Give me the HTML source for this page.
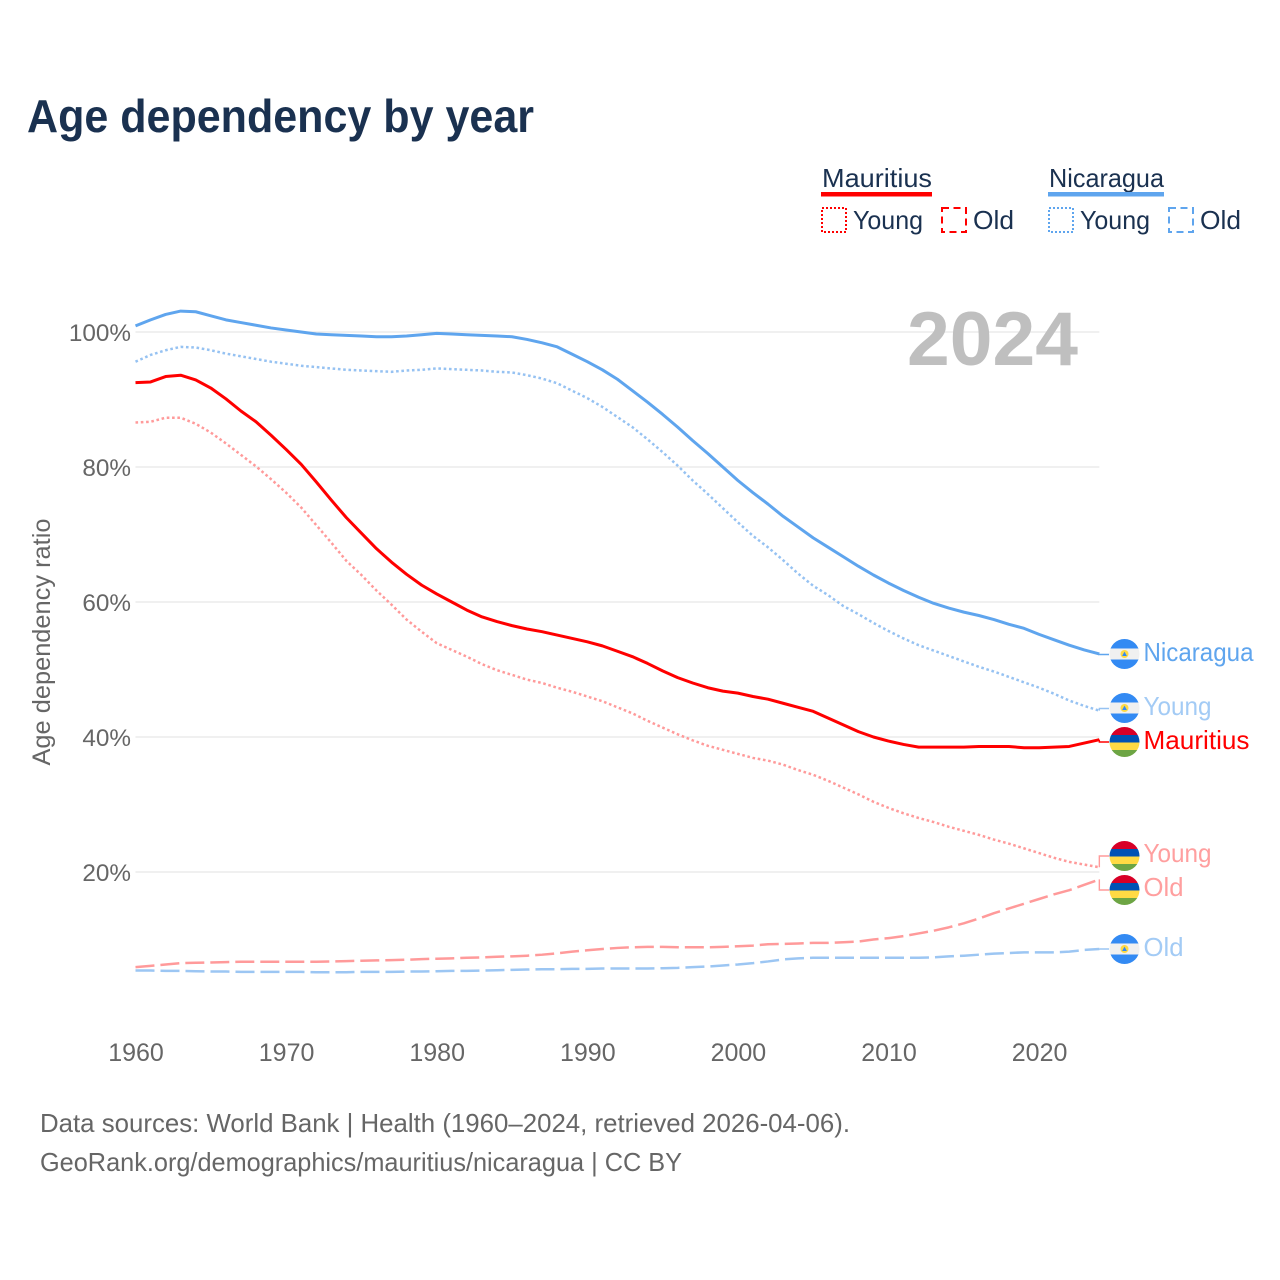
<!DOCTYPE html>
<html lang="en">
<head>
<meta charset="utf-8">
<title>Age dependency by year</title>
<style>
html,body{margin:0;padding:0;background:#fff;}
svg{display:block;}
text{font-family:"Liberation Sans",sans-serif;}
</style>
</head>
<body>
<svg id="chart" xmlns="http://www.w3.org/2000/svg" width="1280" height="1280" viewBox="0 0 1280 1280">
  <defs>
    <clipPath id="flag-clip"><circle cx="0" cy="0" r="15"/></clipPath>
    <g id="flag-nicaragua" clip-path="url(#flag-clip)">
      <rect x="-15" y="-15" width="30" height="9.5" fill="#338af3"/>
      <rect x="-15" y="-5.5" width="30" height="11" fill="#f0f0f0"/>
      <rect x="-15" y="5.5" width="30" height="9.5" fill="#338af3"/>
      <circle cx="0" cy="0" r="4" fill="#ffda44"/>
      <path d="M0 -2.4 L2.4 2 H-2.4 Z" fill="#338af3"/>
    </g>
    <g id="flag-mauritius" clip-path="url(#flag-clip)">
      <rect x="-15" y="-15" width="30" height="8" fill="#d80027"/>
      <rect x="-15" y="-7" width="30" height="7.5" fill="#0052b4"/>
      <rect x="-15" y="0.5" width="30" height="7.5" fill="#ffda44"/>
      <rect x="-15" y="8" width="30" height="7" fill="#6da544"/>
    </g>
  </defs>

  <text x="27" y="132" font-size="46" font-weight="bold" fill="#1a3150" textLength="507" lengthAdjust="spacingAndGlyphs">Age dependency by year</text>

  <g>
    <text x="822" y="187" font-size="26" fill="#1a3150" textLength="110" lengthAdjust="spacingAndGlyphs">Mauritius</text>
    <rect x="821" y="192" width="111" height="4.5" fill="#ff0000"/>
    <rect x="822" y="208" width="24" height="24" fill="none" stroke="#ff0000" stroke-width="2" stroke-dasharray="2 2"/>
    <text x="853" y="229" font-size="26" fill="#1a3150" textLength="70" lengthAdjust="spacingAndGlyphs">Young</text>
    <rect x="942" y="208" width="24" height="24" fill="none" stroke="#ff0000" stroke-width="2" stroke-dasharray="7 4.5"/>
    <text x="973" y="229" font-size="26" fill="#1a3150" textLength="41" lengthAdjust="spacingAndGlyphs">Old</text>

    <text x="1049" y="187" font-size="26" fill="#1a3150" textLength="115" lengthAdjust="spacingAndGlyphs">Nicaragua</text>
    <rect x="1048" y="192" width="116" height="4.5" fill="#5fa5ee"/>
    <rect x="1049" y="208" width="24" height="24" fill="none" stroke="#5fa5ee" stroke-width="2" stroke-dasharray="2 2"/>
    <text x="1080" y="229" font-size="26" fill="#1a3150" textLength="70" lengthAdjust="spacingAndGlyphs">Young</text>
    <rect x="1169" y="208" width="24" height="24" fill="none" stroke="#5fa5ee" stroke-width="2" stroke-dasharray="7 4.5"/>
    <text x="1200" y="229" font-size="26" fill="#1a3150" textLength="41" lengthAdjust="spacingAndGlyphs">Old</text>
  </g>

  <g id="grid"></g>
  <text x="907" y="365" font-size="76" font-weight="bold" fill="#bfbfbf" textLength="171" lengthAdjust="spacingAndGlyphs">2024</text>
  <g id="y-ticks"></g>
  <g id="x-ticks"></g>
  <text transform="translate(50,642) rotate(-90)" text-anchor="middle" font-size="25" fill="#666666" textLength="247" lengthAdjust="spacingAndGlyphs">Age dependency ratio</text>
  <g id="series"></g>

  <g>
    <use href="#flag-nicaragua" x="1124.5" y="654"/>
    <text x="1143.5" y="661" font-size="26" fill="#5fa5ee" textLength="110" lengthAdjust="spacingAndGlyphs">Nicaragua</text>
    <use href="#flag-nicaragua" x="1124.5" y="708"/>
    <text x="1143.5" y="715" font-size="26" fill="#a3cbf5" textLength="68" lengthAdjust="spacingAndGlyphs">Young</text>
    <use href="#flag-mauritius" x="1124.5" y="742"/>
    <text x="1143.5" y="749" font-size="26" fill="#ff0000" textLength="106" lengthAdjust="spacingAndGlyphs">Mauritius</text>
    <use href="#flag-mauritius" x="1124.5" y="856"/>
    <text x="1143.5" y="862" font-size="26" fill="#ff9f9f" textLength="68" lengthAdjust="spacingAndGlyphs">Young</text>
    <use href="#flag-mauritius" x="1124.5" y="890"/>
    <text x="1143.5" y="896" font-size="26" fill="#ff9f9f" textLength="40" lengthAdjust="spacingAndGlyphs">Old</text>
    <use href="#flag-nicaragua" x="1124.5" y="949"/>
    <text x="1143.5" y="956" font-size="26" fill="#a3cbf5" textLength="40" lengthAdjust="spacingAndGlyphs">Old</text>
  </g>

  <text x="40" y="1132" font-size="26" fill="#666666" textLength="810" lengthAdjust="spacingAndGlyphs">Data sources: World Bank | Health (1960–2024, retrieved 2026-04-06).</text>
  <text x="40" y="1171" font-size="26" fill="#666666" textLength="642" lengthAdjust="spacingAndGlyphs">GeoRank.org/demographics/mauritius/nicaragua | CC BY</text>
</svg>

<script>
const years = [
  1960,1961,1962,1963,1964,1965,1966,1967,1968,1969,
  1970,1971,1972,1973,1974,1975,1976,1977,1978,1979,
  1980,1981,1982,1983,1984,1985,1986,1987,1988,1989,
  1990,1991,1992,1993,1994,1995,1996,1997,1998,1999,
  2000,2001,2002,2003,2004,2005,2006,2007,2008,2009,
  2010,2011,2012,2013,2014,2015,2016,2017,2018,2019,
  2020,2021,2022,2023,2024
];
const xTickLabels = [1960,1970,1980,1990,2000,2010,2020];
const yTickLabels = [20,40,60,80,100];

const nicaraguaTotal = [
  100.9,101.8,102.6,103.1,103.0,102.4,101.8,101.4,101.0,100.6,
  100.3,100.0,99.7,99.6,99.5,99.4,99.3,99.3,99.4,99.6,
  99.8,99.7,99.6,99.5,99.4,99.3,98.9,98.4,97.8,96.7,
  95.6,94.4,93.0,91.3,89.6,87.8,85.9,83.9,82.0,80.0,
  78.0,76.2,74.5,72.7,71.1,69.5,68.1,66.7,65.3,64.0,
  62.8,61.7,60.7,59.8,59.1,58.5,58.0,57.4,56.7,56.1,
  55.2,54.4,53.6,52.9,52.3
];
const nicaraguaYoung = [
  95.6,96.6,97.3,97.8,97.7,97.3,96.8,96.4,96.0,95.6,
  95.3,95.0,94.8,94.6,94.4,94.3,94.2,94.1,94.3,94.4,
  94.6,94.5,94.4,94.3,94.1,94.0,93.6,93.1,92.4,91.3,
  90.2,88.9,87.4,85.9,84.1,82.2,80.2,78.0,76.0,73.9,
  71.8,69.8,68.1,66.2,64.2,62.4,61.0,59.4,58.2,56.9,
  55.7,54.6,53.6,52.8,52.0,51.2,50.4,49.7,48.9,48.1,
  47.3,46.4,45.4,44.6,43.9
];
const nicaraguaOld = [
  5.4,5.4,5.35,5.35,5.3,5.25,5.25,5.2,5.2,5.2,
  5.2,5.2,5.15,5.15,5.15,5.2,5.2,5.2,5.25,5.25,
  5.3,5.35,5.35,5.4,5.45,5.5,5.55,5.6,5.6,5.65,
  5.65,5.7,5.7,5.7,5.7,5.75,5.8,5.9,6.0,6.15,
  6.3,6.5,6.75,7.05,7.2,7.3,7.3,7.3,7.3,7.3,
  7.3,7.3,7.3,7.35,7.5,7.6,7.75,7.9,8.0,8.1,
  8.1,8.1,8.2,8.45,8.6
];
const mauritiusTotal = [
  92.5,92.6,93.4,93.6,92.9,91.7,90.1,88.3,86.7,84.7,
  82.6,80.4,77.8,75.1,72.5,70.2,67.9,65.9,64.1,62.5,
  61.2,60.0,58.8,57.8,57.1,56.5,56.0,55.6,55.1,54.6,
  54.1,53.5,52.7,51.9,50.9,49.8,48.8,48.0,47.3,46.8,
  46.5,46.0,45.6,45.0,44.4,43.8,42.8,41.8,40.8,40.0,
  39.4,38.9,38.5,38.5,38.5,38.5,38.6,38.6,38.6,38.4,
  38.4,38.5,38.6,39.1,39.6
];
const mauritiusYoung = [
  86.6,86.7,87.3,87.3,86.4,85.1,83.5,81.8,80.1,78.2,
  76.2,74.0,71.4,68.8,66.1,64.0,61.7,59.6,57.4,55.6,
  53.9,52.9,51.9,50.8,49.9,49.2,48.5,48.0,47.3,46.7,
  46.0,45.3,44.4,43.5,42.4,41.4,40.4,39.5,38.7,38.1,
  37.5,36.9,36.5,35.9,35.1,34.4,33.5,32.5,31.5,30.4,
  29.5,28.7,28.0,27.4,26.7,26.1,25.5,24.8,24.2,23.5,
  22.8,22.1,21.5,21.1,20.7
];
const mauritiusOld = [
  5.9,6.1,6.3,6.5,6.55,6.6,6.65,6.7,6.7,6.7,
  6.7,6.7,6.7,6.75,6.8,6.85,6.9,6.95,7.0,7.1,
  7.15,7.2,7.3,7.35,7.45,7.5,7.6,7.75,7.95,8.2,
  8.4,8.6,8.75,8.85,8.9,8.9,8.85,8.85,8.85,8.9,
  9.0,9.1,9.3,9.35,9.4,9.5,9.5,9.6,9.7,10.0,
  10.2,10.5,10.9,11.3,11.8,12.4,13.1,13.9,14.6,15.3,
  16.0,16.7,17.3,18.1,18.9
];

const NS = 'http://www.w3.org/2000/svg';
function xScale(year){ return 135.5 + (year - 1960) * 15.06; }
function yScale(value){ return 1007 - value * 6.75; }

const gridLayer = document.getElementById('grid');
const yTickLayer = document.getElementById('y-ticks');
yTickLabels.forEach(function(tick){
  const line = document.createElementNS(NS, 'line');
  
  
  line.setAttribute('x1', xScale(1960));
  line.setAttribute('x2', xScale(2024));
  line.setAttribute('y1', yScale(tick));
  line.setAttribute('y2', yScale(tick));
  line.setAttribute('stroke', '#e6e6e6');
  line.setAttribute('stroke-width', '1.3');
  gridLayer.appendChild(line);

  const label = document.createElementNS(NS, 'text');
  
  
  label.setAttribute('x', 131);
  label.setAttribute('y', yScale(tick) + 9);
  label.setAttribute('text-anchor', 'end');
  label.setAttribute('font-size', '24.3');
  label.setAttribute('fill', '#666666');
  label.textContent = tick + '%';
  yTickLayer.appendChild(label);
});

const xTickLayer = document.getElementById('x-ticks');
xTickLabels.forEach(function(tick){
  const label = document.createElementNS(NS, 'text');
  
  
  label.setAttribute('x', xScale(tick) + 0.5);
  label.setAttribute('y', 1061);
  label.setAttribute('text-anchor', 'middle');
  label.setAttribute('font-size', '25');
  label.setAttribute('fill', '#666666');
  label.textContent = tick;
  xTickLayer.appendChild(label);
});

const seriesLayer = document.getElementById('series');
function drawSeries(name, values, color, width, dash, flagY){
  const d = values.map(function(v, i){
    return (i ? 'L' : 'M') + xScale(years[i]).toFixed(2) + ' ' + yScale(v).toFixed(2);
  }).join(' ');
  const path = document.createElementNS(NS, 'path');
  
  
  path.setAttribute('d', d);
  path.setAttribute('fill', 'none');
  path.setAttribute('stroke', color);
  path.setAttribute('stroke-width', width);
  path.setAttribute('stroke-linejoin', 'round');
  if (dash) path.setAttribute('stroke-dasharray', dash);
  seriesLayer.appendChild(path);

  const endX = xScale(years[years.length - 1]);
  const endY = yScale(values[values.length - 1]);
  const connector = document.createElementNS(NS, 'path');
  
  
  connector.setAttribute('d', 'M' + endX.toFixed(2) + ' ' + endY.toFixed(2) + ' V' + flagY + ' H1109');
  connector.setAttribute('fill', 'none');
  connector.setAttribute('stroke', color);
  connector.setAttribute('stroke-width', '1.4');
  seriesLayer.appendChild(connector);
}
drawSeries('nicaragua-old', nicaraguaOld, '#9cc6f3', 2.5, '19 6', 949);
drawSeries('mauritius-old', mauritiusOld, '#ff9a9a', 2.5, '19 6', 890);
drawSeries('nicaragua-young', nicaraguaYoung, '#96c2f2', 2.5, '2.6 2.7', 708.5);
drawSeries('mauritius-young', mauritiusYoung, '#ff9a9a', 2.5, '2.6 2.7', 856);
drawSeries('nicaragua-total', nicaraguaTotal, '#5fa5ee', 3, '', 654.5);
drawSeries('mauritius-total', mauritiusTotal, '#ff0000', 3, '', 742);
</script>
</body>
</html>
